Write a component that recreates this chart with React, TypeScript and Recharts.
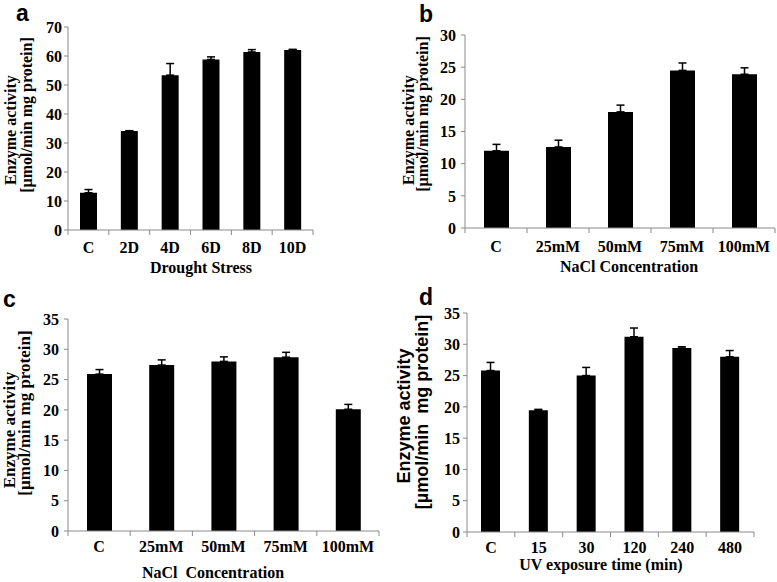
import React from "react";
import { BarChart, Bar, XAxis, YAxis, ErrorBar, Label } from "recharts";

const SERIF = '"Liberation Serif", "Times New Roman", serif';
const SANS = '"Liberation Sans", Arial, sans-serif';
const AXIS_GREY = "#8a8a8a";

// (a) drought stress
const droughtLabels = ["C", "2D", "4D", "6D", "8D", "10D"];
const droughtActivity = [12.85, 34.1, 53.4, 58.8, 61.4, 62.1];
const droughtError = [1.1, 0.15, 4.0, 0.9, 0.8, 0.2];
const droughtTicks = [0, 10, 20, 30, 40, 50, 60, 70];

// (b) NaCl concentration
const naclLabels = ["C", "25mM", "50mM", "75mM", "100mM"];
const naclBActivity = [12.0, 12.6, 18.05, 24.5, 23.9];
const naclBError = [1.0, 1.05, 1.05, 1.15, 1.0];
const naclBTicks = [0, 5, 10, 15, 20, 25, 30];

// (c) NaCl concentration
const naclCActivity = [25.9, 27.4, 28.0, 28.7, 20.1];
const naclCError = [0.75, 0.85, 0.75, 0.8, 0.8];
const naclCTicks = [0, 5, 10, 15, 20, 25, 30, 35];

// (d) UV exposure
const uvLabels = ["C", "15", "30", "120", "240", "480"];
const uvActivity = [25.8, 19.45, 25.0, 31.2, 29.4, 28.0];
const uvError = [1.3, 0.15, 1.3, 1.4, 0.2, 1.0];
const uvTicks = [0, 5, 10, 15, 20, 25, 30, 35];

type TitleLine = { text: string; cx: number; cy: number };

interface PanelProps {
  id: string;
  letter: string;
  letterX: number;
  letterBaseline: number;
  left: number;
  top: number;
  width: number;
  height: number;
  marginTop: number;
  marginRight: number;
  yAxisWidth: number;
  xAxisHeight: number;
  yTickMargin: number;
  tickDy: number;
  barSize: number;
  labels: string[];
  values: number[];
  errors: number[];
  ticks: number[];
  yLines: TitleLine[];
  yFont: string;
  yFontSize: number;
  xTitle: string;
  xTitleX: number;
  xTitleY: number;
}

const serifBold = { fontFamily: SERIF, fontWeight: 700, fontSize: 16 };

function Panel(p: PanelProps) {
  const data = p.labels.map((name, i) => ({
    name,
    value: p.values[i],
    err: [0, p.errors[i]],
  }));
  const plotWidth = p.width - p.yAxisWidth - p.marginRight;
  const band = plotWidth / p.labels.length;
  const last = p.labels.length - 1;

  // category label at the band centre, tick marks at the band edges
  const renderXTick = (t: any) => {
    const { x, y, payload, index } = t;
    return (
      <g>
        <line x1={x - band / 2} x2={x - band / 2} y1={y} y2={y + 5} stroke={AXIS_GREY} />
        {index === last && (
          <line x1={x + band / 2} x2={x + band / 2} y1={y} y2={y + 5} stroke={AXIS_GREY} />
        )}
        <text x={x} y={y + p.tickDy} textAnchor="middle" fill="#000" style={serifBold}>
          {payload.value}
        </text>
      </g>
    );
  };

  return (
    <div style={{ position: "absolute", left: p.left, top: p.top }}>
      <BarChart
        id={p.id}
        width={p.width}
        height={p.height}
        data={data}
        margin={{ top: p.marginTop, right: p.marginRight, bottom: 0, left: 0 }}
      >
        <XAxis
          dataKey="name"
          height={p.xAxisHeight}
          interval={0}
          tickLine={false}
          tickSize={0}
          tickMargin={0}
          axisLine={{ stroke: AXIS_GREY }}
          tick={renderXTick}
        >
          <Label
            content={() => (
              <text
                x={p.xTitleX}
                y={p.xTitleY}
                textAnchor="middle"
                fill="#000"
                style={{ ...serifBold, whiteSpace: "pre" }}
              >
                {p.xTitle}
              </text>
            )}
          />
        </XAxis>
        <YAxis
          width={p.yAxisWidth}
          domain={[0, p.ticks[p.ticks.length - 1]]}
          ticks={p.ticks}
          interval={0}
          tickSize={4}
          tickMargin={p.yTickMargin}
          axisLine={{ stroke: AXIS_GREY }}
          tickLine={{ stroke: AXIS_GREY }}
          tick={{ fill: "#000", style: serifBold, fontFamily: SERIF, fontWeight: 700, fontSize: 16 }}
        >
          <Label
            content={() => (
              <g>
                {p.yLines.map((l) => (
                  <text
                    key={l.text}
                    x={l.cx}
                    y={l.cy}
                    transform={`rotate(-90, ${l.cx}, ${l.cy})`}
                    textAnchor="middle"
                    dominantBaseline="central"
                    fill="#000"
                    style={{
                      fontFamily: p.yFont,
                      fontWeight: 700,
                      fontSize: p.yFontSize,
                      whiteSpace: "pre",
                    }}
                  >
                    {l.text}
                  </text>
                ))}
              </g>
            )}
          />
        </YAxis>
        <Bar dataKey="value" fill="#000" barSize={p.barSize} isAnimationActive={false}>
          <ErrorBar
            dataKey="err"
            direction="y"
            width={4}
            stroke="#000"
            strokeWidth={1.5}
            isAnimationActive={false}
          />
        </Bar>
      </BarChart>
      <svg
        width={60}
        height={30}
        style={{ position: "absolute", left: p.letterX, top: 0, overflow: "visible" }}
      >
        <text
          x={0}
          y={p.letterBaseline}
          fill="#000"
          style={{ fontFamily: SANS, fontWeight: 700, fontSize: 23 }}
        >
          {p.letter}
        </text>
      </svg>
    </div>
  );
}

export default function App() {
  return (
    <div
      style={{
        position: "absolute",
        left: 0,
        top: 0,
        width: 777,
        height: 582,
        background: "#fff",
        overflow: "hidden",
      }}
    >
      <Panel
        id="panel-a"
        letter="a"
        letterX={16}
        letterBaseline={21}
        left={0}
        top={0}
        width={390}
        height={290}
        marginTop={27}
        marginRight={77}
        yAxisWidth={68}
        xAxisHeight={60}
        yTickMargin={2}
        tickDy={23}
        barSize={17}
        labels={droughtLabels}
        values={droughtActivity}
        errors={droughtError}
        ticks={droughtTicks}
        yLines={[
          { text: "Enzyme activity", cx: 10, cy: 130 },
          { text: "[µmol/min mg protein]", cx: 26, cy: 115 },
        ]}
        yFont={SERIF}
        yFontSize={16}
        xTitle="Drought Stress"
        xTitleX={201}
        xTitleY={273}
      />
      <Panel
        id="panel-b"
        letter="b"
        letterX={32}
        letterBaseline={22}
        left={387}
        top={0}
        width={390}
        height={290}
        marginTop={35}
        marginRight={2}
        yAxisWidth={78}
        xAxisHeight={62}
        yTickMargin={5}
        tickDy={24}
        barSize={25}
        labels={naclLabels}
        values={naclBActivity}
        errors={naclBError}
        ticks={naclBTicks}
        yLines={[
          { text: "Enzyme activity", cx: 21, cy: 130 },
          { text: "[µmol/min mg protein]", cx: 35, cy: 114 },
        ]}
        yFont={SERIF}
        yFontSize={16}
        xTitle="NaCl Concentration"
        xTitleX={242}
        xTitleY={272}
      />
      <Panel
        id="panel-c"
        letter="c"
        letterX={3}
        letterBaseline={17}
        left={0}
        top={290}
        width={390}
        height={292}
        marginTop={29}
        marginRight={11}
        yAxisWidth={68}
        xAxisHeight={51}
        yTickMargin={5}
        tickDy={21}
        barSize={25}
        labels={naclLabels}
        values={naclCActivity}
        errors={naclCError}
        ticks={naclCTicks}
        yLines={[
          { text: "Enzyme activity", cx: 9, cy: 140 },
          { text: "[µmol/min mg protein]", cx: 24, cy: 123 },
        ]}
        yFont={SERIF}
        yFontSize={17}
        xTitle="NaCl  Concentration"
        xTitleX={213}
        xTitleY={288}
      />
      <Panel
        id="panel-d"
        letter="d"
        letterX={32}
        letterBaseline={15}
        left={387}
        top={290}
        width={390}
        height={292}
        marginTop={23}
        marginRight={23}
        yAxisWidth={80}
        xAxisHeight={50}
        yTickMargin={3}
        tickDy={21}
        barSize={19}
        labels={uvLabels}
        values={uvActivity}
        errors={uvError}
        ticks={uvTicks}
        yLines={[
          { text: "Enzyme activity", cx: 17, cy: 126 },
          { text: "[µmol/min  mg protein]", cx: 35, cy: 122 },
        ]}
        yFont={SANS}
        yFontSize={18}
        xTitle="UV exposure time (min)"
        xTitleX={214}
        xTitleY={280}
      />
    </div>
  );
}
